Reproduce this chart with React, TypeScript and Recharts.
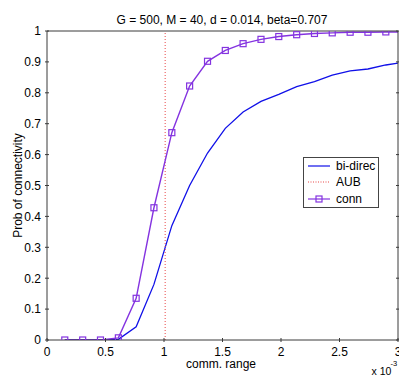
import { LineChart, Line, XAxis, YAxis, Legend, Label } from "recharts";

const rangeX = [
  0.152, 0.305, 0.457, 0.61, 0.762, 0.914, 1.067, 1.219, 1.372, 1.524,
  1.676, 1.829, 1.981, 2.134, 2.286, 2.438, 2.591, 2.743, 2.896, 3.048,
];
const biDirec = [
  0, 0, 0, 0.002, 0.043, 0.18, 0.37, 0.5, 0.605, 0.685,
  0.738, 0.772, 0.795, 0.82, 0.836, 0.857, 0.871, 0.877, 0.89, 0.899,
];
const conn = [
  0, 0, 0, 0.007, 0.135, 0.428, 0.671, 0.822, 0.902, 0.937,
  0.959, 0.973, 0.982, 0.988, 0.992, 0.994, 0.996, 0.996, 0.997, 0.997,
];
const aubX = 1.01;
const aubY = [0, 1];

const xTicks = [0, 0.5, 1, 1.5, 2, 2.5, 3];
const yTicks = [0, 0.1, 0.2, 0.3, 0.4, 0.5, 0.6, 0.7, 0.8, 0.9, 1];

const title = "G = 500, M = 40, d = 0.014, beta=0.707";

const data = rangeX.map((x, i) => ({ x, biDirec: biDirec[i], conn: conn[i] }));
const aubData = aubY.map((v) => ({ x: aubX, aub: v }));

const FONT = '"Liberation Sans", Arial, sans-serif';
const AXIS = "#3a3a3a";
const BLUE = "#1010e8";
const PURPLE = "#8433e0";
const RED = "#e84848";
const TICK = 4;

const legendOrder = ["biDirec", "aub", "conn"];
const legendStyles: Record<string, { color: string; dash?: string; marker?: boolean }> = {
  biDirec: { color: BLUE },
  aub: { color: RED, dash: "1 1.5" },
  conn: { color: PURPLE, marker: true },
};

const BottomTick = ({ x, y, payload }: any) => (
  <g>
    <line x1={x} y1={y} x2={x} y2={y - TICK} stroke={AXIS} />
    <text x={x} y={y + 13.5} textAnchor="middle" fontSize={12} fill="#000">
      {payload.value}
    </text>
  </g>
);

const TopTick = ({ x, y }: any) => (
  <line x1={x} y1={y} x2={x} y2={y + TICK} stroke={AXIS} />
);

const LeftTick = ({ x, y, payload }: any) => (
  <g>
    <line x1={x} y1={y} x2={x + TICK} y2={y} stroke={AXIS} />
    <text x={x - 4} y={y + 4.3} textAnchor="end" fontSize={12} fill="#000">
      {payload.value}
    </text>
  </g>
);

const RightTick = ({ x, y }: any) => (
  <line x1={x} y1={y} x2={x - TICK} y2={y} stroke={AXIS} />
);

const SquareDot = ({ cx, cy }: any) => {
  if (cx == null || cy == null) return null;
  return (
    <rect x={cx - 3} y={cy - 3} width={6} height={6} fill="none" stroke={PURPLE} strokeWidth={1.2} />
  );
};

const LegendBox = ({ payload }: any) => {
  const items = [...(payload || [])].sort(
    (a: any, b: any) => legendOrder.indexOf(a.dataKey) - legendOrder.indexOf(b.dataKey)
  );
  return (
    <div
      style={{
        border: "1px solid #444",
        background: "#fff",
        width: 76,
        height: 51,
        boxSizing: "border-box",
        padding: "0 0 0 4px",
        fontFamily: FONT,
        fontSize: 12,
        color: "#000",
      }}
    >
      {items.map((entry: any) => {
        const st = legendStyles[entry.dataKey] || { color: entry.color };
        return (
          <div key={entry.value} style={{ display: "flex", alignItems: "center", height: 16.6 }}>
            <svg width={25} height={10} style={{ marginRight: 3 }}>
              <line x1={0} y1={5} x2={22} y2={5} stroke={st.color} strokeWidth={1.2} strokeDasharray={st.dash} />
              {st.marker && <rect x={8} y={2} width={6} height={6} fill="none" stroke={st.color} strokeWidth={1.2} />}
            </svg>
            <span style={{ lineHeight: "14px" }}>{entry.value}</span>
          </div>
        );
      })}
    </div>
  );
};

const App = () => (
  <div style={{ position: "absolute", left: 0, top: 0, fontFamily: FONT, background: "#fff" }}>
    <LineChart width={399} height={376} margin={{ top: 30, right: 0, bottom: 0, left: 0 }}>
      <XAxis
        dataKey="x"
        type="number"
        domain={[0, 3]}
        ticks={xTicks}
        interval={0}
        allowDataOverflow
        height={36}
        tickLine={false}
        tickSize={0}
        tick={<BottomTick />}
        axisLine={{ stroke: AXIS }}
      >
        <Label
          content={({ viewBox }: any) => {
            const { x, y, width } = viewBox;
            return (
              <g>
                <text x={x + width / 2 - 1.5} y={y + 27.5} textAnchor="middle" fontSize={12} fill="#000">
                  comm. range
                </text>
                <text x={x + width - 26.5} y={y + 34.5} fontSize={10.5} fill="#000">
                  x 10
                </text>
                <text x={x + width - 7.5} y={y + 25.5} fontSize={7.5} fill="#000">
                  -3
                </text>
              </g>
            );
          }}
        />
      </XAxis>
      <XAxis
        xAxisId="top"
        orientation="top"
        type="number"
        domain={[0, 3]}
        ticks={xTicks}
        interval={0}
        allowDataOverflow
        height={1}
        tickLine={false}
        tickSize={0}
        tick={<TopTick />}
        axisLine={{ stroke: AXIS }}
      >
        <Label
          content={({ viewBox }: any) => (
            <text
              x={viewBox.x + viewBox.width / 2 - 0.5}
              y={viewBox.y + viewBox.height - 7}
              textAnchor="middle"
              fontSize={12}
              fill="#000"
            >
              {title}
            </text>
          )}
        />
      </XAxis>
      <YAxis
        type="number"
        domain={[0, 1]}
        ticks={yTicks}
        interval={0}
        allowDataOverflow
        width={47}
        tickLine={false}
        tickSize={0}
        tick={<LeftTick />}
        axisLine={{ stroke: AXIS }}
      >
        <Label
          content={({ viewBox }: any) => {
            const cx = viewBox.x + 21.7;
            const cy = viewBox.y + viewBox.height / 2;
            return (
              <text x={cx} y={cy} transform={`rotate(-90 ${cx} ${cy})`} textAnchor="middle" fontSize={12} fill="#000">
                Prob of connectivity
              </text>
            );
          }}
        />
      </YAxis>
      <YAxis
        yAxisId="right"
        orientation="right"
        type="number"
        domain={[0, 1]}
        ticks={yTicks}
        interval={0}
        allowDataOverflow
        width={1}
        tickLine={false}
        tickSize={0}
        tick={<RightTick />}
        axisLine={{ stroke: AXIS }}
      />
      <Legend
        layout="vertical"
        align="center"
        verticalAlign="middle"
        content={<LegendBox />}
        wrapperStyle={{ left: 303, top: 156.5, width: 76, height: 51 }}
      />
      <Line
        data={data}
        dataKey="biDirec"
        name="bi-direc"
        type="linear"
        stroke={BLUE}
        strokeWidth={1.3}
        dot={false}
        activeDot={false}
        isAnimationActive={false}
      />
      <Line
        data={aubData}
        dataKey="aub"
        name="AUB"
        type="linear"
        stroke={RED}
        strokeWidth={1}
        strokeDasharray="1 2"
        dot={false}
        activeDot={false}
        isAnimationActive={false}
      />
      <Line
        data={data}
        dataKey="conn"
        name="conn"
        type="linear"
        stroke={PURPLE}
        strokeWidth={1.4}
        dot={<SquareDot />}
        activeDot={false}
        isAnimationActive={false}
      />
    </LineChart>
  </div>
);

export default App;
